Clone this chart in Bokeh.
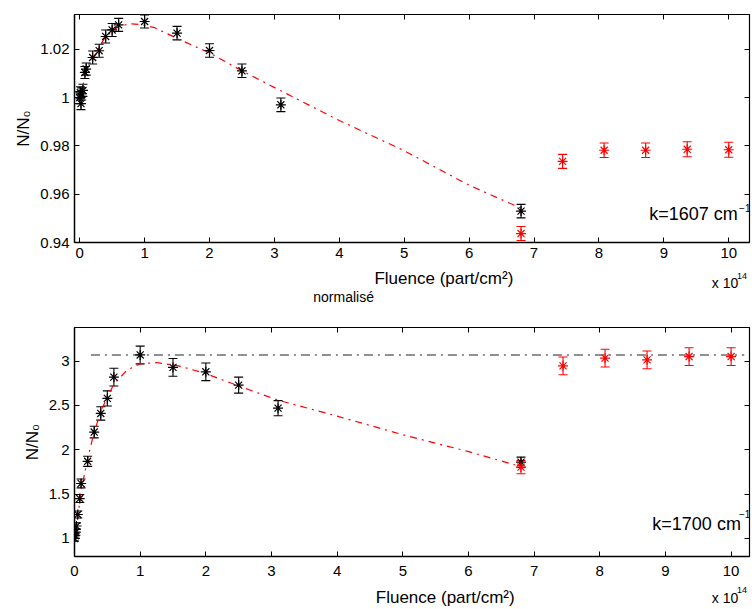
from bokeh.plotting import figure
from bokeh.models import (ColumnDataSource, Whisker, TeeHead, LinearAxis, FixedTicker,
                          Label, Range1d, CustomJSTickFormatter)
from bokeh.core.properties import value
from bokeh.layouts import column
from bokeh.embed import file_html
from bokeh.resources import INLINE

FONT = "Liberation Sans"

# ---------------- data ----------------
fluence = [0.0, 0.01, 0.02, 0.03, 0.05, 0.08, 0.1, 0.2, 0.3, 0.4, 0.5, 0.6,
           1.0, 1.5, 2.0, 2.5, 3.1, 6.8]
red_fluence = [6.8, 7.44, 8.08, 8.72, 9.36, 10.0]

top_black = [1.0, 1.002, 0.9975, 1.0015, 1.003, 1.0104, 1.0118, 1.0166, 1.0194,
             1.0253, 1.028, 1.0301, 1.0315, 1.0267, 1.0195, 1.0111, 0.9970, 0.9530]
top_black_err = [0.0025, 0.0025, 0.0025, 0.0025, 0.0025, 0.0025, 0.0025, 0.0027,
                 0.0027, 0.0027, 0.0027, 0.0027, 0.0027, 0.0028, 0.0028, 0.0028,
                 0.0028, 0.0028]
top_red = [0.9437, 0.9736, 0.9782, 0.9782, 0.9786, 0.9784]
top_red_err = [0.0029, 0.0029, 0.0030, 0.0030, 0.0031, 0.0031]

top_fit_x = [0.02, 0.05, 0.1, 0.17, 0.29, 0.37, 0.5, 0.63, 0.8, 0.95, 1.15, 1.5,
             2.0, 2.5, 3.1, 4.0, 5.0, 6.0, 6.8]
top_fit_y = [1.0005, 1.005, 1.0112, 1.014, 1.0205, 1.024, 1.0277, 1.0298, 1.0305,
             1.0302, 1.029, 1.0245, 1.0185, 1.0111, 1.0028, 0.9905, 0.978, 0.9637,
             0.9542]

bot_black = [1.0, 1.03, 1.07, 1.14, 1.27, 1.45, 1.62, 1.87, 2.2, 2.41, 2.58, 2.82,
             3.07, 2.93, 2.88, 2.73, 2.47, 1.86]
bot_black_err = [0.03, 0.03, 0.035, 0.035, 0.04, 0.045, 0.05, 0.057, 0.065, 0.075,
                 0.085, 0.1, 0.1, 0.1, 0.1, 0.09, 0.085, 0.057]
bot_red = [1.805, 2.947, 3.034, 3.015, 3.052, 3.052]
bot_red_err = [0.075, 0.1, 0.1, 0.1, 0.1, 0.1]

bot_fit_x = [0.0, 0.03, 0.06, 0.1, 0.15, 0.2, 0.3, 0.4, 0.5, 0.6, 0.8, 1.0, 1.25,
             1.6, 2.0, 2.5, 3.1, 4.0, 5.0, 6.0, 6.8]
bot_fit_y = [1.0, 1.15, 1.3, 1.52, 1.72, 1.9, 2.2, 2.43, 2.6, 2.74, 2.9, 2.97,
             2.985, 2.945, 2.86, 2.72, 2.56, 2.38, 2.17, 1.98, 1.81]

bot_ref_x = [0.25, 10.2]
bot_ref_y = [3.07, 3.07]

x_ticks = [0, 1, 2, 3, 4, 5, 6, 7, 8, 9, 10]
top_y_ticks = [0.94, 0.96, 0.98, 1.0, 1.02]
top_y_labels = ["0.94", "0.96", "0.98", "1", "1.02"]
bot_y_ticks = [1.0, 1.5, 2.0, 2.5, 3.0]
bot_y_labels = ["1", "1.5", "2", "2.5", "3"]

x_title = "Fluence (part/cm²)"
y_title = "N/N₀"
scale_text = "x 10"
scale_exp = "14"
sub_title = "normalisé"

W = 752


def tick_fmt(ticks, labels):
    return CustomJSTickFormatter(
        args=dict(tv=ticks, tl=labels),
        code="for (let i = 0; i < tv.length; i++) { if (Math.abs(tv[i] - tick) < 1e-9) return tl[i]; } return '';")


def make_panel(xr, yr, frame_h, mb_top, mb_bottom, yticks, ylabels, xstand):
    p = figure(frame_width=675, frame_height=frame_h,
               x_range=Range1d(*xr), y_range=Range1d(*yr),
               output_backend="svg", toolbar_location=None,
               min_border_left=74, min_border_right=3, min_border_top=mb_top,
               min_border_bottom=mb_bottom)
    p.grid.visible = False
    p.outline_line_color = "black"
    p.outline_line_width = 1
    p.xaxis.ticker = FixedTicker(ticks=x_ticks)
    p.yaxis.ticker = FixedTicker(ticks=yticks)
    p.yaxis.formatter = tick_fmt(yticks, ylabels)
    p.yaxis.axis_label = y_title
    for ax in [p.xaxis[0], p.yaxis[0]]:
        ax.major_tick_in = 5
        ax.major_tick_out = 0
        ax.minor_tick_line_color = None
        ax.axis_line_width = 1.5
        ax.major_label_text_font = FONT
        ax.major_label_text_font_size = "15px"
        ax.major_label_text_color = "black"
        ax.axis_label_text_font = FONT
        ax.axis_label_text_font_size = "17px"
        ax.axis_label_text_font_style = "normal"
        ax.axis_label_text_color = "black"
        ax.major_label_standoff = 5
        ax.axis_label_standoff = 4
    p.xaxis[0].major_label_standoff = xstand
    p.xaxis[0].axis_label_standoff = 0
    # tick marks (no labels) on the top and right edges, as in the original box
    for loc, tk in (("above", x_ticks), ("right", yticks)):
        ax = LinearAxis(ticker=FixedTicker(ticks=tk), major_tick_in=5, major_tick_out=0,
                        minor_tick_line_color=None,
                        formatter=CustomJSTickFormatter(code="return '';"),
                        major_label_text_font_size="2px",
                        major_label_standoff=0, axis_line_width=1.2)
        p.add_layout(ax, loc)
    return p


def add_series(p, xs, ys, errs, color):
    src = ColumnDataSource(dict(x=xs, y=ys,
                                lo=[y - e for y, e in zip(ys, errs)],
                                hi=[y + e for y, e in zip(ys, errs)]))
    w = Whisker(source=src, base="x", lower="lo", upper="hi",
                line_color=color, line_width=1.1,
                upper_head=TeeHead(size=9, line_color=color, line_width=1.1),
                lower_head=TeeHead(size=9, line_color=color, line_width=1.1))
    p.add_layout(w)
    p.scatter("x", "y", source=src, marker="asterisk", size=10,
              line_color=color, line_width=1.2)


def make_strip(h):
    s = figure(width=W, height=h, x_range=Range1d(0, W), y_range=Range1d(h, 0),
               output_backend="svg", toolbar_location=None, min_border=0,
               x_axis_type=None, y_axis_type=None, outline_line_color=None)
    s.grid.visible = False
    return s


def strip_text(s, x, y, txt, size, align="left"):
    s.text(x=[x], y=[y], text=[txt], text_font=value(FONT), text_font_size=value(size),
           text_align=align, text_baseline="middle", text_color="black")


def panel_label(p, x, y, txt, size):
    p.add_layout(Label(x=x, y=y, text=txt, text_font=FONT, text_font_size=size,
                       text_baseline="middle", text_color="black"))


# ---------------- top panel (page y 0 .. 266) ----------------
p1 = make_panel((-0.08, 10.32), (0.94, 1.0344), 228, 14, 24, top_y_ticks, top_y_labels, 5)
p1.line(top_fit_x, top_fit_y, line_color="red", line_width=1.2, line_dash="7 5 2 5")
add_series(p1, fluence, top_black, top_black_err, "black")
add_series(p1, red_fluence, top_red, top_red_err, "red")
panel_label(p1, 8.775, 0.9517, "k=1607 cm", "18px")
panel_label(p1, 10.16, 0.9542, "−1", "10px")

# strip under top panel (page y 266 .. 313)
S1_TOP = 266
s1 = make_strip(47)
strip_text(s1, 411.5, 278 - S1_TOP, x_title, "17px", "center")
strip_text(s1, 710, 282 - S1_TOP, scale_text, "14px")
strip_text(s1, 738, 275 - S1_TOP, scale_exp, "9px")
strip_text(s1, 266, 296 - S1_TOP, sub_title, "14px")

# ---------------- bottom panel (page y 313 .. 584) ----------------
p2 = make_panel((0.0, 10.28), (0.796, 3.38), 229, 14, 28, bot_y_ticks, bot_y_labels, 9)
p2.line(bot_ref_x, bot_ref_y, line_color="#222222", line_width=1.1, line_dash="9 5 2 5")
p2.line(bot_fit_x, bot_fit_y, line_color="red", line_width=1.2, line_dash="7 5 2 5")
add_series(p2, fluence, bot_black, bot_black_err, "black")
add_series(p2, red_fluence, bot_red, bot_red_err, "red")
panel_label(p2, 8.80, 1.163, "k=1700 cm", "18px")
panel_label(p2, 10.12, 1.28, "−1", "10px")

# strip under bottom panel (page y 584 .. 609)
S2_TOP = 584
s2 = make_strip(25)
strip_text(s2, 413, 597 - S2_TOP, x_title, "17px", "center")
strip_text(s2, 710, 597 - S2_TOP, scale_text, "14px")
strip_text(s2, 738, 589 - S2_TOP, scale_exp, "9px")

layout = column(p1, s1, p2, s2)
open("out.html", "w").write(file_html(layout, INLINE))
